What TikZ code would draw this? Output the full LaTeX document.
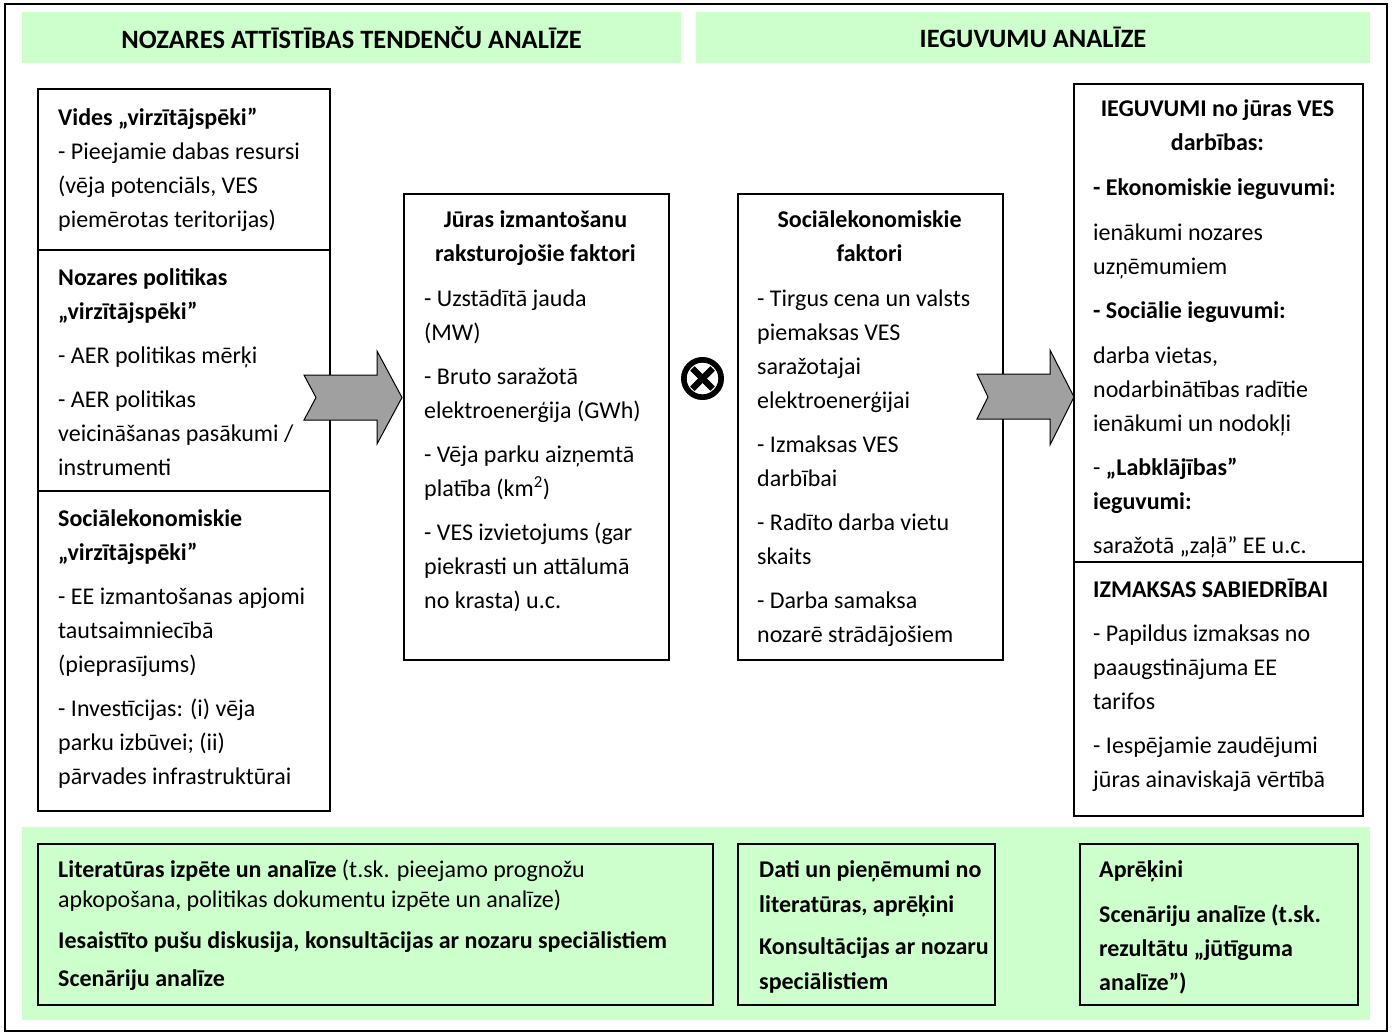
\documentclass[tikz,border=0pt]{standalone}
\usepackage{fontspec}
\setmainfont{Carlito}
\newfontfamily\otimesfont{DejaVu Sans}[FakeBold=1.5]
\definecolor{lgreen}{HTML}{CCFFCC}
\definecolor{arrowgray}{RGB}{160,160,160}
\newcommand\mystrut{\rule{0pt}{26pt}}
\begin{document}
\begin{tikzpicture}[x=1pt,y=-1pt,
  band/.style={fill=lgreen, draw=none, inner sep=0pt},
  boxed/.style={draw=black, line width=1.6pt, inner sep=0pt, anchor=north west},
  gboxed/.style={boxed, fill=lgreen},
  divline/.style={draw=black, line width=1.6pt},
  txt/.style={anchor=north west, inner sep=0pt, align=left, font=\fontsize{24}{34}\selectfont},
  ttl/.style={anchor=north, inner sep=0pt, align=center, font=\fontsize{24}{34}\selectfont\bfseries},
  hdr/.style={band, font=\fontsize{26.5}{30}\selectfont\bfseries},
  blockarrow/.style={fill=arrowgray, draw=black, line width=1pt, line join=miter}
]
\useasboundingbox (0,0) rectangle (1392,1034);
% outer frame
\node[boxed, minimum width=1382pt, minimum height=1027pt] (frame) at (4,3) {};
% header bands
\node[hdr, minimum width=659pt, minimum height=51pt] (hb1) at (351.5,37.5) {NOZARES ATTĪSTĪBAS TENDENČU ANALĪZE};
\node[hdr, minimum width=674pt, minimum height=51pt] (hb2) at (1033,37.5) {IEGUVUMU ANALĪZE};
% bottom band
\node[band, anchor=north west, minimum width=1348pt, minimum height=193pt] (bb) at (22,827) {};

% left column box
\node[boxed, minimum width=292pt, minimum height=722pt] (L) at (37,88) {};
\draw[divline] (L.west |- 0,250) coordinate (l1a) -- (L.east |- 0,250) coordinate (l1b);
\draw[divline] (L.west |- 0,491) coordinate (l2a) -- (L.east |- 0,491) coordinate (l2b);

% middle boxes
\node[boxed, minimum width=265pt, minimum height=466pt] (M1) at (403,193) {};
\node[boxed, minimum width=265pt, minimum height=466pt] (M2) at (737,193) {};

% right box
\node[boxed, minimum width=289pt, minimum height=732pt] (R) at (1073,83) {};
\draw[divline] (R.west |- 0,562) coordinate (r1a) -- (R.east |- 0,562) coordinate (r1b);

% bottom boxes
\node[gboxed, minimum width=675pt, minimum height=161pt] (BA) at (37,843) {};
\node[gboxed, minimum width=257pt, minimum height=161pt] (BB) at (737,843) {};
\node[gboxed, minimum width=278pt, minimum height=161pt] (BC) at (1079,843) {};

% block arrows
\draw[blockarrow] (304,375) -- (377,375) -- (377,351) -- (402,397.5) -- (377,444) -- (377,420) -- (304,420) -- (316,397.5) -- cycle;
\draw[blockarrow] (977,374) -- (1050,374) -- (1050,350) -- (1074,397) -- (1050,445) -- (1050,419) -- (977,419) -- (988,397) -- cycle;

% otimes
\node[inner sep=0pt, font=\otimesfont\fontsize{64}{64}\selectfont] (ot) at (702.5,378.5) {⊗};

% left texts
\node[txt] (lt1) at (58,99) {\mystrut\textbf{Vides „virzītājspēki”}\\- Pieejamie dabas resursi\\(vēja potenciāls, VES\\piemērotas teritorijas)};
\node[txt] (lt2) at (58,259) {\mystrut\textbf{Nozares politikas}\\\textbf{„virzītājspēki”}\\[10pt]- AER politikas mērķi\\[10pt]- AER politikas\\veicināšanas pasākumi /\\instrumenti};
\node[txt] (lt3) at (58,500) {\mystrut\textbf{Sociālekonomiskie}\\\textbf{„virzītājspēki”}\\[10pt]- EE izmantošanas apjomi\\tautsaimniecībā\\(pieprasījums)\\[10pt]- Investīcijas: (i) vēja\\parku izbūvei; (ii)\\pārvades infrastruktūrai};

% middle texts
\node[ttl] (m1t) at (535.5,201) {\mystrut Jūras izmantošanu\\raksturojošie faktori};
\node[txt] (m1b) at (424,280) {\mystrut- Uzstādītā jauda\\(MW)\\[10pt]- Bruto saražotā\\elektroenerģija (GWh)\\[10pt]- Vēja parku aizņemtā\\platība (km\textsuperscript{2})\\[10pt]- VES izvietojums (gar\\piekrasti un attālumā\\no krasta) u.c.};
\node[ttl] (m2t) at (869.5,201) {\mystrut Sociālekonomiskie\\faktori};
\node[txt] (m2b) at (757,280) {\mystrut- Tirgus cena un valsts\\piemaksas VES\\saražotajai\\elektroenerģijai\\[10pt]- Izmaksas VES\\darbībai\\[10pt]- Radīto darba vietu\\skaits\\[10pt]- Darba samaksa\\nozarē strādājošiem};

% right texts
\node[ttl] (rt) at (1217.5,90) {\mystrut IEGUVUMI no jūras VES\\darbības:};
\node[txt] (rb) at (1093,169) {\mystrut\textbf{- Ekonomiskie ieguvumi:}\\[11pt]ienākumi nozares\\uzņēmumiem\\[10pt]\textbf{- Sociālie ieguvumi:}\\[11pt]darba vietas,\\nodarbinātības radītie\\ienākumi un nodokļi\\[10pt]- \textbf{„Labklājības”}\\\textbf{ieguvumi:}\\[10pt]saražotā „zaļā” EE u.c.};
\node[txt] (rc) at (1093,571) {\mystrut\textbf{IZMAKSAS SABIEDRĪBAI}\\[10pt]- Papildus izmaksas no\\paaugstinājuma EE\\tarifos\\[10pt]- Iespējamie zaudējumi\\jūras ainaviskajā vērtībā};

% bottom texts
\node[txt, font=\fontsize{24}{30}\selectfont] (bat) at (58,851) {\mystrut\textbf{Literatūras izpēte un analīze} (t.sk. pieejamo prognožu\\apkopošana, politikas dokumentu izpēte un analīze)\\[11pt]\textbf{Iesaistīto pušu diskusija, konsultācijas ar nozaru speciālistiem}\\[8pt]\textbf{Scenāriju analīze}};
\node[txt, font=\fontsize{24}{35}\selectfont\bfseries] (bbt) at (759,851) {\mystrut Dati un pieņēmumi no\\literatūras, aprēķini\\[7pt]Konsultācijas ar nozaru\\speciālistiem};
\node[txt, font=\fontsize{24}{34}\selectfont\bfseries] (bct) at (1099,851) {\mystrut Aprēķini\\[11pt]Scenāriju analīze (t.sk.\\rezultātu „jūtīguma\\analīze”)};
\end{tikzpicture}
\end{document}
